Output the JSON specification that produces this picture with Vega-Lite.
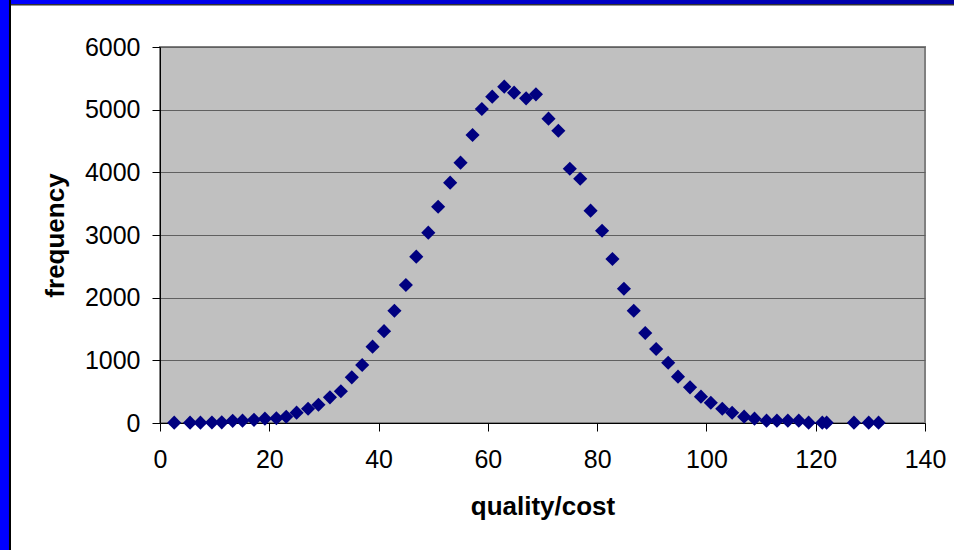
{
  "$schema": "https://vega.github.io/schema/vega-lite/v6.json",
  "width": 765,
  "height": 376,
  "autosize": {"type": "none"},
  "padding": {"left": 160, "top": 47, "right": 29, "bottom": 127},
  "background": "#ffffff",
  "config": {
    "view": {"fill": "#c0c0c0", "stroke": "#808080", "strokeWidth": 2},
    "font": "Liberation Sans"
  },
  "layer": [
    {
      "data": {"values": [{}]},
      "mark": {"type": "rect", "color": "#000000", "clip": false},
      "encoding": {
        "x": {"datum": -29.6, "type": "quantitative", "scale": {"domain": [0, 140], "nice": false, "zero": false}},
        "x2": {"datum": -27.27},
        "y": {"datum": 7000, "type": "quantitative", "scale": {"domain": [0, 6000], "nice": false}},
        "y2": {"datum": -2500}
      }
    },
    {
      "data": {"values": [{}]},
      "mark": {"type": "rect", "color": "#0000ff", "clip": false},
      "encoding": {
        "x": {"datum": -29.6, "type": "quantitative"},
        "x2": {"datum": -27.64},
        "y": {"datum": 7000, "type": "quantitative"},
        "y2": {"datum": -2500}
      }
    },
    {
      "data": {"values": [{}]},
      "mark": {"type": "rect", "color": "#333333", "clip": false},
      "encoding": {
        "x": {"datum": -27.27, "type": "quantitative"},
        "x2": {"datum": 150},
        "y": {"datum": 7000, "type": "quantitative"},
        "y2": {"datum": 6663}
      }
    },
    {
      "data": {"values": [{}]},
      "mark": {
        "type": "rect",
        "clip": false,
        "color": {"gradient": "linear", "x1": 0, "x2": 1, "y1": 0, "y2": 0, "stops": [{"offset": 0, "color": "#0000ff"}, {"offset": 1, "color": "#0000a0"}]}
      },
      "encoding": {
        "x": {"datum": -27.27, "type": "quantitative"},
        "x2": {"datum": 150},
        "y": {"datum": 7000, "type": "quantitative"},
        "y2": {"datum": 6686}
      }
    },
    {
      "data": {
        "values": [
          {"x": 2.6, "y": 5}, {"x": 5.5, "y": 5}, {"x": 7.4, "y": 5}, {"x": 9.5, "y": 8},
          {"x": 11.3, "y": 10}, {"x": 13.3, "y": 35}, {"x": 15.1, "y": 37}, {"x": 17.2, "y": 50},
          {"x": 19.2, "y": 69}, {"x": 21.3, "y": 75}, {"x": 23.1, "y": 100}, {"x": 25.0, "y": 165},
          {"x": 27.1, "y": 228}, {"x": 29.0, "y": 292}, {"x": 31.1, "y": 410}, {"x": 33.1, "y": 506},
          {"x": 35.1, "y": 729}, {"x": 37.0, "y": 925}, {"x": 38.9, "y": 1218}, {"x": 41.0, "y": 1465},
          {"x": 42.9, "y": 1792}, {"x": 45.0, "y": 2202}, {"x": 46.9, "y": 2654}, {"x": 49.1, "y": 3037},
          {"x": 50.9, "y": 3451}, {"x": 53.1, "y": 3835}, {"x": 55.0, "y": 4154}, {"x": 57.2, "y": 4596},
          {"x": 58.9, "y": 5010}, {"x": 60.8, "y": 5207}, {"x": 63.0, "y": 5367}, {"x": 64.8, "y": 5271},
          {"x": 67.0, "y": 5181}, {"x": 68.8, "y": 5245}, {"x": 71.1, "y": 4856}, {"x": 72.9, "y": 4664},
          {"x": 75.0, "y": 4058}, {"x": 76.9, "y": 3898}, {"x": 78.8, "y": 3388}, {"x": 80.9, "y": 3068},
          {"x": 82.8, "y": 2617}, {"x": 84.9, "y": 2143}, {"x": 86.7, "y": 1792}, {"x": 88.8, "y": 1436},
          {"x": 90.8, "y": 1181}, {"x": 93.0, "y": 962}, {"x": 94.8, "y": 739}, {"x": 97.0, "y": 569},
          {"x": 99.0, "y": 420}, {"x": 100.8, "y": 324}, {"x": 102.9, "y": 228}, {"x": 104.7, "y": 164},
          {"x": 106.9, "y": 101}, {"x": 108.8, "y": 69}, {"x": 111.0, "y": 37}, {"x": 112.9, "y": 37},
          {"x": 114.9, "y": 37}, {"x": 116.9, "y": 37}, {"x": 118.7, "y": 5}, {"x": 121.2, "y": 5},
          {"x": 122.0, "y": 5}, {"x": 127.0, "y": 5}, {"x": 129.7, "y": 5}, {"x": 131.5, "y": 5}
        ]
      },
      "mark": {"type": "point", "shape": "diamond", "filled": true, "size": 200, "color": "#000080", "opacity": 1, "clip": false},
      "encoding": {
        "x": {
          "field": "x", "type": "quantitative",
          "scale": {"domain": [0, 140], "nice": false, "zero": false},
          "axis": {
            "title": "quality/cost", "values": [0, 20, 40, 60, 80, 100, 120, 140], "format": "d",
            "grid": false, "domainColor": "#000000", "domainWidth": 1,
            "tickColor": "#000000", "tickSize": 8, "labelPadding": 16,
            "labelFontSize": 25, "labelColor": "#000000", "labelFont": "Liberation Sans",
            "labelFlush": false, "labelOverlap": false,
            "titleFontSize": 26, "titleFontWeight": "bold", "titleColor": "#000000",
            "titleFont": "Liberation Sans", "titlePadding": 21
          }
        },
        "y": {
          "field": "y", "type": "quantitative",
          "scale": {"domain": [0, 6000], "nice": false},
          "axis": {
            "title": "frequency", "values": [0, 1000, 2000, 3000, 4000, 5000, 6000], "format": "d",
            "grid": true, "gridColor": "#606060", "gridWidth": 1, "gridOpacity": 1,
            "domainColor": "#000000", "domainWidth": 1,
            "tickColor": "#000000", "tickSize": 8, "labelPadding": 12,
            "labelFontSize": 25, "labelColor": "#000000", "labelFont": "Liberation Sans",
            "labelFlush": false, "labelOverlap": false,
            "titleFontSize": 26, "titleFontWeight": "bold", "titleColor": "#000000",
            "titleFont": "Liberation Sans", "titlePadding": 16
          }
        }
      }
    }
  ]
}
